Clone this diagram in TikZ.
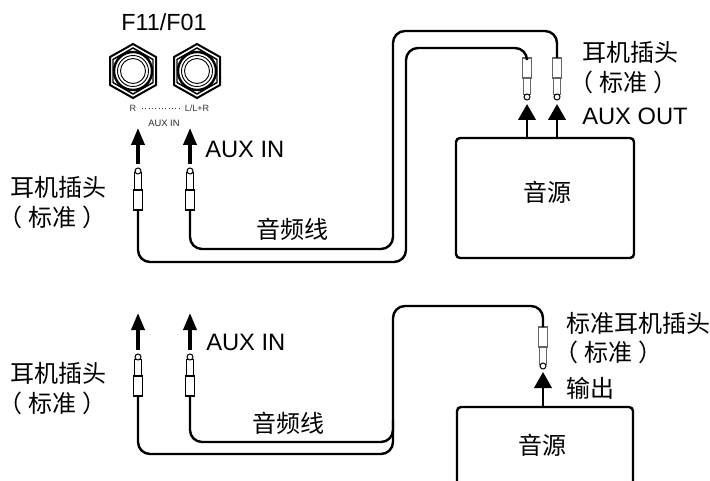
\documentclass[tikz,border=0pt]{standalone}
\usepackage{fontspec}
\setmainfont{Liberation Sans}
\newfontfamily\cjk{Noto Sans CJK SC}
\usetikzlibrary{arrows.meta}
\newcommand{\lparen}{\kern-10.5pt（\kern1pt\  }
\tikzset{
  x=0.75pt,y=-0.75pt,
  cable/.style={line width=1.8pt,rounded corners=9pt,black},
  flow/.style={line width=2.1pt,-{Triangle[length=12pt,width=13pt]}},
  flowthin/.style={line width=3.4pt,-{Triangle[length=13pt,width=9.5pt]},shorten >=-1pt},
  lbl/.style={inner sep=0pt,font=\fontsize{17.8pt}{20pt}\selectfont,anchor=west},
  cjklbl/.style={inner sep=0pt,font=\fontsize{18pt}{20pt}\selectfont\cjk},
  srcbox/.style={draw,line width=1.8pt,rounded corners=3pt,inner sep=0pt},
}
% plug: #1 name, #2 x, #3 y of the tip circle centre, #4 direction (1 = cable below, -1 = cable above), #5 colour
\newcommand{\audioplug}[5]{%
  \begin{scope}[shift={(#2,#3)},yscale=#4]
    \draw[line width=0.75pt,draw=#5,fill=white] (-3.5,2) rectangle (3.5,20);
    \draw[line width=0.75pt,fill=white] (0,0) circle (3);
    \draw[line width=0.9pt,fill=white,draw=#5] (-4.5,19) rectangle (4.5,39);
    \coordinate (#1) at (0,39);
    \coordinate (#1t) at (0,-7);
  \end{scope}}
\newcommand{\hexjack}[3]{%
  \begin{scope}[shift={(#2,#3)}]
    \coordinate (#1) at (0,0);
    \draw[line width=1.5pt,line join=miter,fill=white] (0,-27)--(23,-14)--(23,14)--(0,27)--(-23,14)--(-23,-14)--cycle;
    \draw[line width=1.1pt] (0,-23)--(20,-11.5)--(20,11.5)--(0,23)--(-20,11.5)--(-20,-11.5)--cycle;
    \draw[line width=1.8pt] (0,0) circle (19);
    \draw[line width=0.7pt] (0,0) circle (15.5);
    \draw[line width=0.7pt] (0,0) circle (12.5);
  \end{scope}}
\begin{document}
\begin{tikzpicture}
\useasboundingbox (0,0) rectangle (710,481);
% ---------- upper
\node[inner sep=0pt,font=\fontsize{17.5pt}{20pt}\selectfont] (title) at (164,22) {F11/F01};
\hexjack{jr}{133}{71}
\hexjack{jl}{197}{71}
\node[inner sep=0pt,font=\fontsize{6.8pt}{8pt}\selectfont,text=black!80] (rl) at (133,108) {R};
\node[inner sep=0pt,font=\fontsize{6.8pt}{8pt}\selectfont,text=black!80] (ll) at (197,108) {L/L+R};
\draw[line width=0.5pt,dotted,black!80] ([xshift=4pt]rl.east) -- ([xshift=-3pt]ll.west);
\node[inner sep=0pt,font=\fontsize{7pt}{8pt}\selectfont,text=black!85] (auxs) at (164,123) {AUX IN};

\audioplug{pa}{138}{171}{1}{black}
\audioplug{pb}{190}{171}{1}{black}
\draw[flowthin] (pat) -- (138,129);
\draw[flowthin] (pbt) -- (190,129);

\audioplug{pc}{527}{97}{-1}{black!60}
\audioplug{pd}{557}{97}{-1}{black!60}
\node[srcbox,minimum width=133.5pt,minimum height=90pt] (src1) at (545,198) {};
\node[cjklbl] (src1t) at (547,192) {音源};
\coordinate (o1) at (527,138);
\coordinate (o2) at (557,138);
\draw[flow] (o1) -- (527,104);
\draw[flow] (o2) -- (557,104);

\draw[cable] (pa) -- (138,262) -- (406,262) -- (406,48) -- (527,48) -- (pc);
\draw[cable] (pb) -- (190,249) -- (393,249) -- (393,31) -- (557,31) -- (pd);

\node[lbl] (aux1) at (205,149) {AUX IN};
\node[lbl] (aout) at (582,116) {AUX OUT};
\node[cjklbl,anchor=west] (hp1) at (582,52) {耳机插头};
\node[cjklbl,anchor=west] (std1) at (583,82) {\lparen 标准 ）};
\node[cjklbl,anchor=west] (hp2) at (10,187) {耳机插头};
\node[cjklbl,anchor=west] (std2) at (12,217) {\lparen 标准 ）};
\node[cjklbl] (cab1) at (292,229) {音频线};

% ---------- lower
\audioplug{pe}{138}{357}{1}{black}
\audioplug{pf}{190}{357}{1}{black}
\draw[flowthin] (pet) -- (138,314);
\draw[flowthin] (pft) -- (190,314);
\audioplug{pg}{543}{366}{-1}{black!60}
\draw[cable] (pe) -- (138,454) -- (393,454) -- (393,306) -- (543,306) -- (pg);
\draw[cable] (pf) -- (190,442) -- (393,442) -- (393,420);

\coordinate (b1) at (457,481);
\coordinate (b2) at (633,481);
\draw[line width=1.8pt,rounded corners=3pt] (b1) -- (457,407) -- (633,407) -- (b2);
\coordinate (o3) at (543,407);
\draw[flow] (o3) -- (543,372);
\node[cjklbl] (src2) at (542,445) {音源};

\node[lbl] (aux2) at (206,342) {AUX IN};
\node[cjklbl,anchor=west] (hp3) at (566,323) {标准耳机插头};
\node[cjklbl,anchor=west] (std3) at (568,352) {\lparen 标准 ）};
\node[cjklbl,anchor=west] (out) at (566,388) {输出};
\node[cjklbl,anchor=west] (hp4) at (10,373) {耳机插头};
\node[cjklbl,anchor=west] (std4) at (12,403) {\lparen 标准 ）};
\node[cjklbl] (cab2) at (288,423) {音频线};
\end{tikzpicture}
\end{document}
